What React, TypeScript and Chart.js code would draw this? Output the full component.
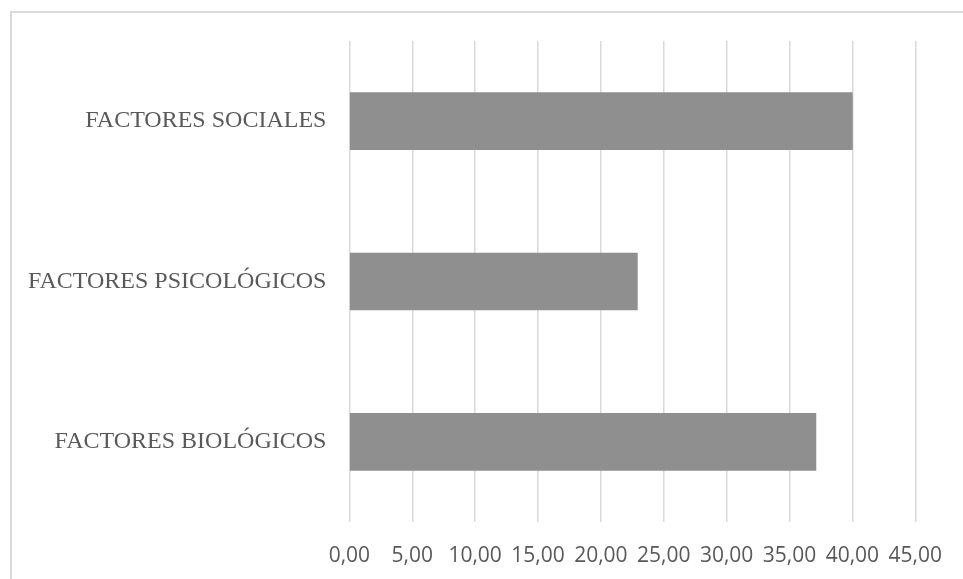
import React, { useEffect, useRef } from "react";
import { Chart, registerables } from "chart.js";

Chart.register(...registerables);

const categories = ["FACTORES SOCIALES", "FACTORES PSICOLÓGICOS", "FACTORES BIOLÓGICOS"];
const values = [40.0, 22.9, 37.1];
const xMin = 0;
const xMax = 45;
const xStep = 5;

export default function App() {
  const ref = useRef<HTMLCanvasElement | null>(null);

  useEffect(() => {
    if (!ref.current) return;
    const chart = new Chart(ref.current, {
      type: "bar",
      data: {
        labels: categories,
        datasets: [
          {
            data: values,
            backgroundColor: "#8f8f8f",
            borderWidth: 0,
            barThickness: 57,
          },
        ],
      },
      options: {
        indexAxis: "y",
        responsive: false,
        animation: false,
        layout: { padding: { top: 41, right: 43.5, left: 0, bottom: 0 } },
        plugins: { legend: { display: false }, tooltip: { enabled: false } },
        scales: {
          x: {
            min: xMin,
            max: xMax,
            ticks: {
              stepSize: xStep,
              padding: 21,
              color: "#595959",
              font: { family: "'Open Sans'", size: 21 },
              callback: (v: any) => Number(v).toFixed(2).replace(".", ","),
              maxRotation: 0,
              autoSkip: false,
            },
            grid: { color: "#d9d9d9", lineWidth: 1.5, drawTicks: false },
            border: { display: false },
            afterFit: (s: any) => {
              s.height = 579 - 522;
            },
          },
          y: {
            ticks: {
              padding: 23,
              color: "#595959",
              font: { family: "'Liberation Serif'", size: 24 },
            },
            grid: { display: false, drawTicks: false },
            border: { display: false },
            afterFit: (s: any) => {
              s.width = 349.4;
            },
          },
        },
      },
    });
    return () => chart.destroy();
  }, []);

  return (
    <div style={{ position: "fixed", left: 0, top: 0, width: 963, height: 579, overflow: "hidden", background: "#fff" }}>
      <div
        style={{
          position: "absolute",
          left: 10,
          top: 11,
          width: 1000,
          height: 1000,
          borderLeft: "2px solid #d9d9d9",
          borderTop: "2px solid #d9d9d9",
        }}
      />
      <canvas ref={ref} width={963} height={579} style={{ position: "absolute", left: 0, top: 0, width: 963, height: 579 }} />
    </div>
  );
}
